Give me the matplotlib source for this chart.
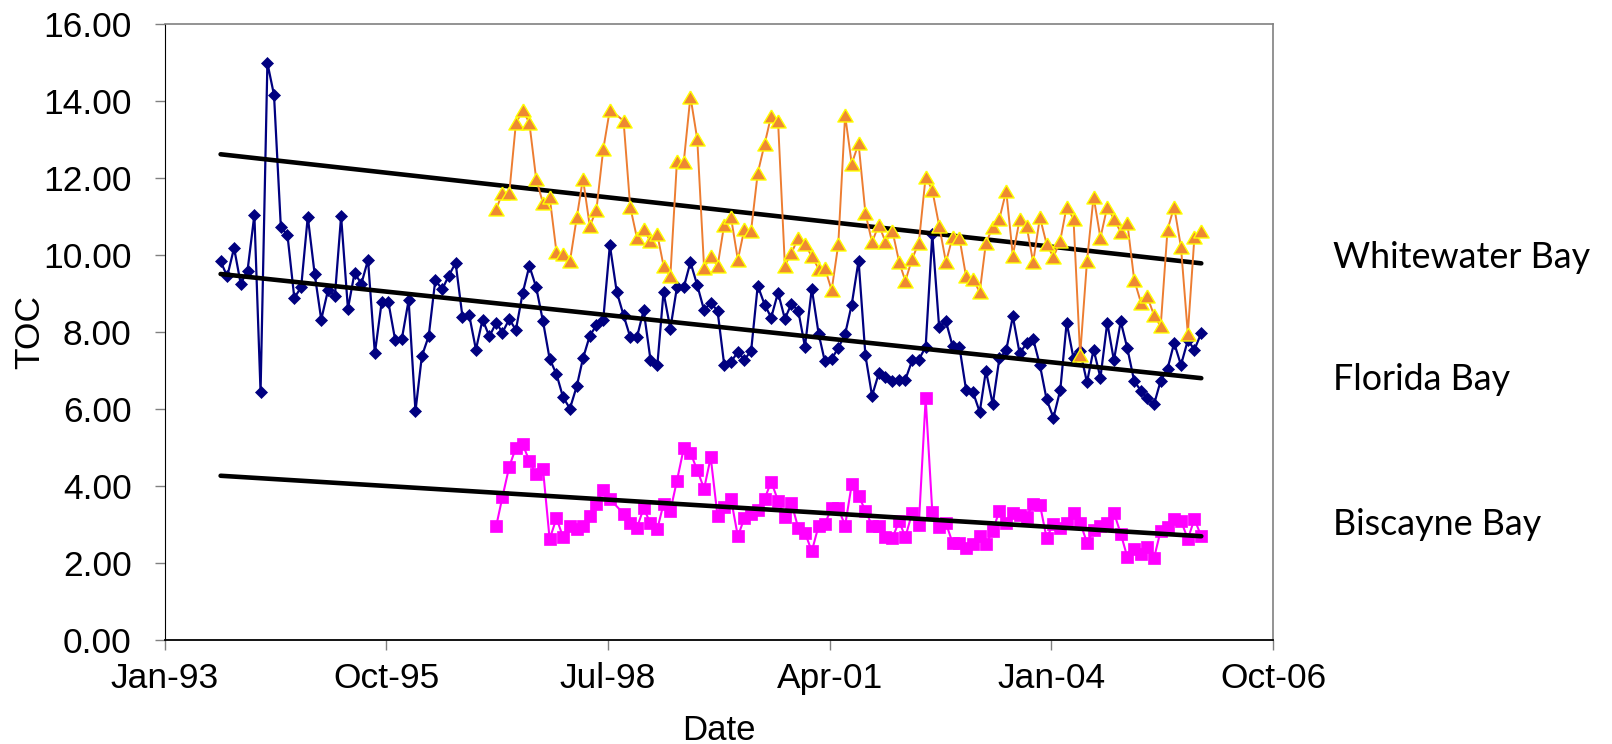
import numpy as np
import pandas as pd
import matplotlib
matplotlib.use('Agg')
import matplotlib.pyplot as plt
import matplotlib.dates as mdates
from matplotlib.ticker import FormatStrFormatter

# Monthly total organic carbon, one value per month from the start date
florida_start = '1993-09-10'
florida_toc = [
    9.83, 9.44, 10.18, 9.25, 9.59, 11.04, 6.43, 14.98, 14.15, 10.72,
    10.51, 8.88, 9.16, 10.99, 9.51, 8.32, 9.09, 8.94, 11.00, 8.60,
    9.53, 9.25, 9.87, 7.44, 8.78, 8.78, 7.79, 7.81, 8.82, 5.94,
    7.37, 7.89, 9.35, 9.10, 9.46, 9.79, 8.39, 8.45, 7.54, 8.32,
    7.88, 8.24, 7.98, 8.33, 8.05, 9.01, 9.71, 9.16, 8.27, 7.30,
    6.90, 6.30, 6.01, 6.59, 7.31, 7.90, 8.17, 8.32, 10.25, 9.04,
    8.43, 7.87, 7.87, 8.56, 7.28, 7.13, 9.03, 8.08, 9.16, 9.16,
    9.81, 9.21, 8.56, 8.76, 8.54, 7.15, 7.22, 7.48, 7.28, 7.50,
    9.20, 8.71, 8.37, 9.02, 8.34, 8.73, 8.54, 7.61, 9.12, 7.95,
    7.24, 7.30, 7.58, 7.94, 8.71, 9.85, 7.39, 6.34, 6.93, 6.83,
    6.72, 6.75, 6.76, 7.26, 7.28, 7.61, 10.53, 8.13, 8.27, 7.63,
    7.61, 6.50, 6.44, 5.92, 6.99, 6.12, 7.31, 7.52, 8.40, 7.44,
    7.70, 7.82, 7.13, 6.25, 5.77, 6.49, 8.24, 7.31, 7.50, 6.69,
    7.54, 6.81, 8.24, 7.26, 8.27, 7.57, 6.72, 6.47, 6.27, 6.12,
    6.73, 7.04, 7.71, 7.14, 7.78, 7.54, 7.97,
]

# Whitewater and Biscayne Bay share a start month; nan = month not sampled
bay_start = '1997-02-10'
whitewater_toc = [
    11.19, 11.60, 11.60, 13.41, 13.75, 13.43, 11.97, 11.34, 11.51, 10.07,
    10.01, 9.83, 10.97, 11.98, 10.74, 11.17, 12.74, 13.77, np.nan, 13.48,
    11.25, 10.43, 10.66, 10.35, 10.53, 9.72, 9.44, 12.44, 12.42, 14.11,
    13.00, 9.65, 9.98, 9.70, 10.78, 10.97, 9.87, 10.66, 10.63, 12.12,
    12.87, 13.61, 13.48, 9.72, 10.05, 10.44, 10.28, 9.96, 9.64, 9.66,
    9.08, 10.27, 13.62, 12.36, 12.89, 11.08, 10.33, 10.78, 10.33, 10.63,
    9.81, 9.32, 9.90, 10.31, 12.03, 11.68, 10.76, 9.81, 10.46, 10.44,
    9.44, 9.38, 9.03, 10.31, 10.71, 10.93, 11.66, 9.98, 10.92, 10.76,
    9.81, 10.97, 10.28, 9.94, 10.37, 11.25, 10.93, 7.39, 9.83, 11.51,
    10.44, 11.25, 10.93, 10.59, 10.82, 9.35, 8.75, 8.92, 8.43, 8.14,
    10.65, 11.25, 10.20, 7.95, 10.47, 10.63,
]
biscayne_toc = [
    2.96, 3.71, 4.50, 4.99, 5.08, 4.65, 4.30, 4.43, 2.62, 3.16,
    2.67, 2.96, 2.89, 2.96, 3.23, 3.53, 3.90, 3.66, np.nan, 3.28,
    3.05, 2.92, 3.42, 3.03, 2.88, 3.53, 3.35, 4.14, 4.98, 4.86,
    4.41, 3.93, 4.74, 3.21, 3.46, 3.66, 2.69, 3.16, 3.27, 3.38,
    3.66, 4.11, 3.62, 3.19, 3.55, 2.90, 2.79, 2.30, 2.97, 3.02,
    3.42, 3.42, 2.97, 4.04, 3.74, 3.36, 2.97, 2.97, 2.67, 2.65,
    3.08, 2.67, 3.31, 2.99, 6.27, 3.33, 2.93, 3.03, 2.52, 2.52,
    2.40, 2.50, 2.69, 2.49, 2.84, 3.35, 3.05, 3.30, 3.25, 3.19,
    3.53, 3.51, 2.65, 3.02, 2.91, 3.05, 3.31, 3.05, 2.53, 2.86,
    2.95, 3.03, 3.31, 2.76, 2.15, 2.35, 2.22, 2.41, 2.13, 2.84,
    2.93, 3.14, 3.10, 2.62, 3.14, 2.69,
]

x_ticks = ['1993-01-01', '1995-10-01', '1998-07-01', '2001-04-01',
           '2004-01-01', '2006-10-01']
y_ticks = [0, 2, 4, 6, 8, 10, 12, 14, 16]


def monthly(start, values):
    dates = pd.date_range(start, periods=len(values), freq=pd.DateOffset(months=1))
    return pd.Series(values, index=dates, dtype=float).dropna()


florida = monthly(florida_start, florida_toc)
whitewater = monthly(bay_start, whitewater_toc)
biscayne = monthly(bay_start, biscayne_toc)

plt.rcParams['font.family'] = 'Liberation Sans'

fig = plt.figure(figsize=(16.12, 7.44), dpi=100)
ax = fig.add_axes([165 / 1612, 1 - 640 / 744, 1108 / 1612, 616.3 / 744])

ax.plot(florida.index, florida.values, color='#000080', lw=1.6,
        marker='D', ms=6.5, mfc='#000080', mec='#000080', mew=0.5, zorder=2)
ax.plot(biscayne.index, biscayne.values, color='#FF00FF', lw=1.5,
        marker='s', ms=8.6, mfc='#FF00FF', mec='#FF00FF', mew=0.5, zorder=2.5)

# linear trend for each bay, drawn over the Florida Bay record span
span = mdates.date2num(florida.index[[0, -1]])
for s in (florida, whitewater, biscayne):
    coef = np.polyfit(mdates.date2num(s.index), s.values, 1)
    ax.plot(mdates.num2date(span), np.polyval(coef, span), color='black',
            lw=3.3, solid_capstyle='round', zorder=3)

tri = [(0, 0.85), (-1, -0.85), (1, -0.85), (0, 0.85)]
ax.plot(whitewater.index, whitewater.values, color='#ED7D31', lw=1.4,
        marker=tri, ms=11, mfc='#EE8833', mec='#FFFF00', mew=1.0, zorder=4)

ax.set_xlim(pd.Timestamp(x_ticks[0]), pd.Timestamp(x_ticks[-1]))
ax.set_ylim(0, 16)
ax.set_xticks([pd.Timestamp(t) for t in x_ticks])
ax.xaxis.set_major_formatter(mdates.DateFormatter('%b-%y'))
ax.set_yticks(y_ticks)
ax.yaxis.set_major_formatter(FormatStrFormatter('%.2f'))

for side in ('top', 'right'):
    ax.spines[side].set_color('#808080')
    ax.spines[side].set_linewidth(1.2)
ax.spines['left'].set_color('black')
ax.spines['bottom'].set_color('black')
ax.spines['bottom'].set_linewidth(1.3)

ax.tick_params(axis='both', direction='out', length=7, width=1,
               color='#808080', labelsize=25.5)
ax.tick_params(axis='y', pad=17)
ax.tick_params(axis='x', pad=9)

ax.set_ylabel('TOC', fontsize=25.5, va='center')
ax.yaxis.set_label_coords(-0.122, 0.5)
ax.set_xlabel('Date', fontsize=25, va='center')
ax.xaxis.set_label_coords(0.5, -0.147)

for name, y in (('Whitewater Bay', 268), ('Florida Bay', 390), ('Biscayne Bay', 535)):
    fig.text(1333 / 1612, 1 - y / 744, name, fontsize=25.8, family='Lato',
             ha='left', va='baseline')

fig.savefig('out.png', dpi=100)
